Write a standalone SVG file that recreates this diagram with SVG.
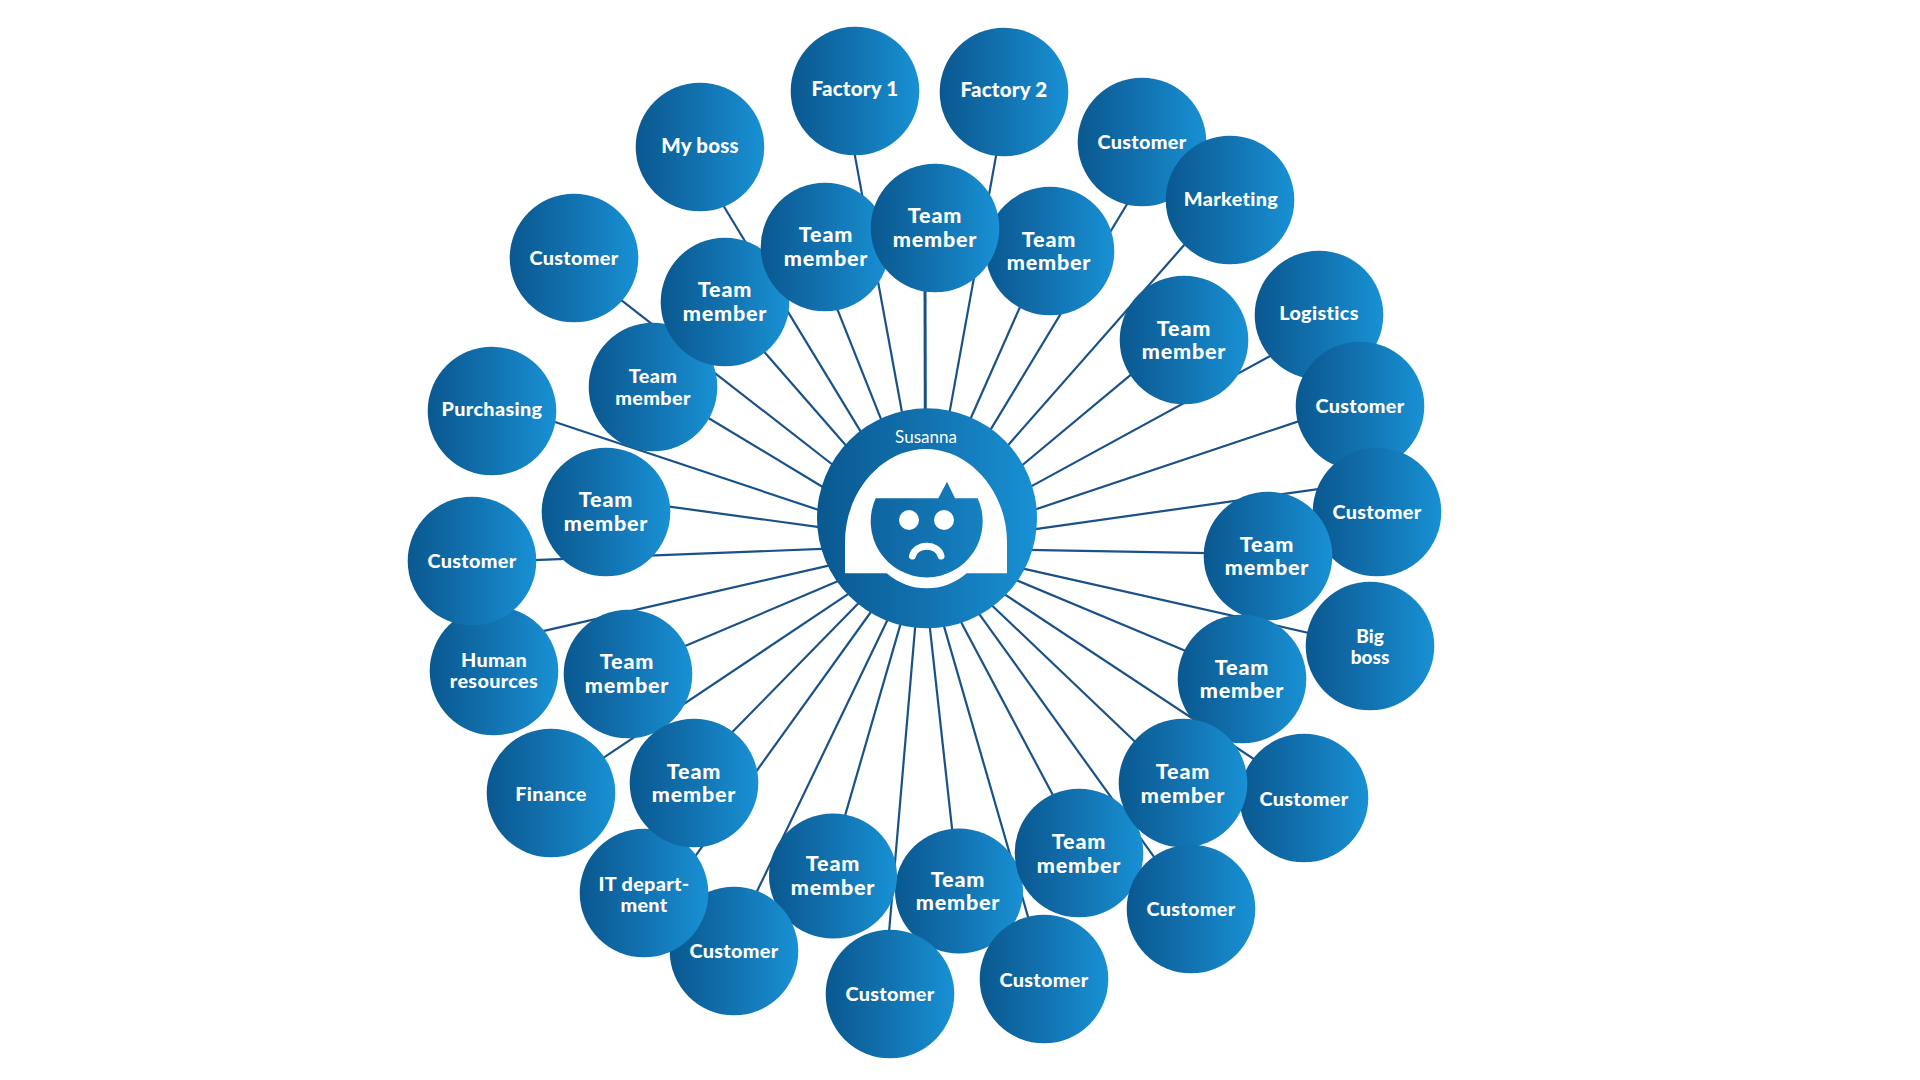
<svg xmlns="http://www.w3.org/2000/svg" width="1920" height="1080" viewBox="0 0 1920 1080">
<defs>
<linearGradient id="g"><stop offset="0" stop-color="#0a5890"/><stop offset="0.5" stop-color="#1272b0"/><stop offset="1" stop-color="#1891d4"/></linearGradient>
<linearGradient id="gh" gradientUnits="userSpaceOnUse" x1="817" y1="0" x2="1037" y2="0"><stop offset="0" stop-color="#0a5890"/><stop offset="0.5" stop-color="#1272b0"/><stop offset="1" stop-color="#1891d4"/></linearGradient>
</defs>
<style>
.n{fill:url(#g)}
.t{font-family:Lato,"Noto Sans",sans-serif;font-weight:900;font-size:21.5px;letter-spacing:.8px;fill:#fff;text-anchor:middle}
.s{font-size:19.8px;letter-spacing:.35px}
.f{font-size:20.5px;letter-spacing:.2px}
.b{font-size:19px;letter-spacing:0}
#connectors line{stroke:#1a5187;stroke-width:2.2;fill:none}
</style>
<rect width="1920" height="1080" fill="#fff"/>
<g id="connectors">
<line x1="925.3" y1="414" x2="925" y2="285" style="stroke-width:3"/>
<line x1="948.6" y1="417.6" x2="997.4" y2="148.4"/>
<line x1="970.3" y1="419.2" x2="1020.4" y2="306.1"/>
<line x1="987.7" y1="434.4" x2="1130" y2="199.3"/>
<line x1="1004.8" y1="448.9" x2="1188.5" y2="240.1"/>
<line x1="1020.1" y1="467" x2="1132.5" y2="373.4"/>
<line x1="1025.2" y1="489.6" x2="1276.1" y2="352.8"/>
<line x1="1028.9" y1="511.6" x2="1305.1" y2="419.1"/>
<line x1="1028.3" y1="530.2" x2="1325.1" y2="488.1"/>
<line x1="1027" y1="549.9" x2="1208.4" y2="553.1"/>
<line x1="1016.6" y1="567.1" x2="1314.4" y2="634.2"/>
<line x1="1013.3" y1="578.9" x2="1190" y2="652.8"/>
<line x1="999.3" y1="590.8" x2="1260.1" y2="763.2"/>
<line x1="989.1" y1="602.7" x2="1138.2" y2="744.7"/>
<line x1="974.8" y1="607.8" x2="1158.5" y2="863.2"/>
<line x1="959" y1="618.2" x2="1055" y2="799.1"/>
<line x1="941.8" y1="618.6" x2="1030.5" y2="925.4"/>
<line x1="929.3" y1="622.3" x2="952.7" y2="834.7"/>
<line x1="915.8" y1="619.3" x2="888.5" y2="938.3"/>
<line x1="901.6" y1="620.4" x2="844.1" y2="818.9"/>
<line x1="890.6" y1="613.6" x2="753.4" y2="898.8"/>
<line x1="875.2" y1="606" x2="690.8" y2="862.3"/>
<line x1="860.4" y1="601.3" x2="730.6" y2="733.8"/>
<line x1="854" y1="590.1" x2="597.7" y2="761.6"/>
<line x1="841.2" y1="579.8" x2="681.5" y2="647.6"/>
<line x1="835.2" y1="564.1" x2="536.5" y2="632.6"/>
<line x1="828.5" y1="548.7" x2="527.5" y2="560.3"/>
<line x1="821.1" y1="527.3" x2="665.6" y2="506.1"/>
<line x1="824.5" y1="511.9" x2="548.2" y2="419.7"/>
<line x1="824" y1="487.7" x2="706.7" y2="417"/>
<line x1="836.2" y1="467.5" x2="617.1" y2="296.9"/>
<line x1="846.4" y1="446" x2="762.6" y2="350"/>
<line x1="863.3" y1="435.9" x2="721" y2="201.7"/>
<line x1="881.3" y1="419.9" x2="836.4" y2="306.8"/>
<line x1="903.1" y1="418.3" x2="853.6" y2="148.4"/>
</g>
<g id="factory-1"><circle class="n" cx="855" cy="91" r="64.3"/><text class="t f" x="855" y="96">Factory 1</text></g>
<g id="factory-2"><circle class="n" cx="1004" cy="92" r="64.3"/><text class="t f" x="1004" y="97">Factory 2</text></g>
<g id="my-boss"><circle class="n" cx="700" cy="147" r="64.3"/><text class="t f" x="700" y="153">My boss</text></g>
<g id="customer-nw"><circle class="n" cx="574" cy="258" r="64.3"/><text class="t s" x="574" y="265">Customer</text></g>
<g id="purchasing"><circle class="n" cx="492" cy="411" r="64.3"/><text class="t s" x="492" y="416">Purchasing</text></g>
<g id="human-resources"><circle class="n" cx="494" cy="671" r="64.3"/><text class="t s" x="494" y="667">Human</text><text class="t s" x="494" y="688">resources</text></g>
<g id="customer-w"><circle class="n" cx="472" cy="561" r="64.3"/><text class="t s" x="472" y="568">Customer</text></g>
<g id="team-1"><circle class="n" cx="653" cy="387" r="64.3"/><text class="t s" x="653" y="383">Team</text><text class="t s" x="653" y="405">member</text></g>
<g id="team-2"><circle class="n" cx="606" cy="512" r="64.3"/><text class="t" x="606" y="507">Team</text><text class="t" x="606" y="531">member</text></g>
<g id="team-3"><circle class="n" cx="725" cy="302" r="64.3"/><text class="t" x="725" y="297">Team</text><text class="t" x="725" y="321">member</text></g>
<g id="team-4"><circle class="n" cx="825" cy="247" r="64.3"/><text class="t" x="826" y="242">Team</text><text class="t" x="826" y="266">member</text></g>
<g id="team-6"><circle class="n" cx="1050" cy="251" r="64.3"/><text class="t" x="1049" y="247">Team</text><text class="t" x="1049" y="270">member</text></g>
<g id="team-5"><circle class="n" cx="935" cy="228" r="64.3"/><text class="t" x="935" y="223">Team</text><text class="t" x="935" y="247">member</text></g>
<g id="customer-ne"><circle class="n" cx="1142" cy="142" r="64.3"/><text class="t s" x="1142" y="149">Customer</text></g>
<g id="marketing"><circle class="n" cx="1230" cy="200" r="64.3"/><text class="t s" x="1231" y="206">Marketing</text></g>
<g id="logistics"><circle class="n" cx="1319" cy="315" r="64.3"/><text class="t s" x="1319" y="320">Logistics</text></g>
<g id="customer-e1"><circle class="n" cx="1360" cy="406" r="64.3"/><text class="t s" x="1360" y="413">Customer</text></g>
<g id="customer-e2"><circle class="n" cx="1377" cy="512" r="64.3"/><text class="t s" x="1377" y="519">Customer</text></g>
<g id="team-7"><circle class="n" cx="1184" cy="340" r="64.3"/><text class="t" x="1184" y="336">Team</text><text class="t" x="1184" y="359">member</text></g>
<g id="team-8"><circle class="n" cx="1268" cy="556" r="64.3"/><text class="t" x="1267" y="552">Team</text><text class="t" x="1267" y="575">member</text></g>
<g id="big-boss"><circle class="n" cx="1370" cy="646" r="64.3"/><text class="t b" x="1370" y="643">Big</text><text class="t b" x="1370" y="664">boss</text></g>
<g id="team-9"><circle class="n" cx="1242" cy="679" r="64.3"/><text class="t" x="1242" y="675">Team</text><text class="t" x="1242" y="698">member</text></g>
<g id="customer-se1"><circle class="n" cx="1304" cy="798" r="64.3"/><text class="t s" x="1304" y="806">Customer</text></g>
<g id="team-12"><ellipse class="n" cx="959" cy="891" rx="64" ry="62.5"/><text class="t" x="958" y="887">Team</text><text class="t" x="958" y="910">member</text></g>
<g id="customer-s2"><circle class="n" cx="1044" cy="979" r="64.3"/><text class="t s" x="1044" y="987">Customer</text></g>
<g id="team-11"><circle class="n" cx="1079" cy="853" r="64.3"/><text class="t" x="1079" y="849">Team</text><text class="t" x="1079" y="873">member</text></g>
<g id="team-10"><circle class="n" cx="1183" cy="783" r="64.3"/><text class="t" x="1183" y="779">Team</text><text class="t" x="1183" y="803">member</text></g>
<g id="customer-se2"><circle class="n" cx="1191" cy="909" r="64.3"/><text class="t s" x="1191" y="916">Customer</text></g>
<g id="customer-s1"><circle class="n" cx="890" cy="994" r="64.3"/><text class="t s" x="890" y="1001">Customer</text></g>
<g id="team-13"><ellipse class="n" cx="833" cy="876" rx="64" ry="62.5"/><text class="t" x="833" y="871">Team</text><text class="t" x="833" y="895">member</text></g>
<g id="customer-sw"><circle class="n" cx="734" cy="951" r="64.3"/><text class="t s" x="734" y="958">Customer</text></g>
<g id="finance"><circle class="n" cx="551" cy="793" r="64.3"/><text class="t s" x="551" y="801">Finance</text></g>
<g id="team-15"><circle class="n" cx="628" cy="674" r="64.3"/><text class="t" x="627" y="669">Team</text><text class="t" x="627" y="693">member</text></g>
<g id="it-department"><circle class="n" cx="644" cy="893" r="64.3"/><text class="t s" x="644" y="891">IT depart-</text><text class="t s" x="644" y="912">ment</text></g>
<g id="team-14"><circle class="n" cx="694" cy="783" r="64.3"/><text class="t" x="694" y="779">Team</text><text class="t" x="694" y="802">member</text></g>
<g id="susanna">
<circle cx="927" cy="518.3" r="110" fill="url(#gh)"/>
<path d="M845 573.3 L845 542 C845 492 882 449 926 449 C970 449 1007 492 1007 542 L1007 573.3 L966.7 573.3 A61 61 0 0 1 886.7 573.3 Z" fill="#fff"/>
<path d="M875.7 498.3 L938.3 498.3 L947 481.7 L955 498.3 L977.7 498.3 A56 56 0 1 1 875.7 498.3 Z" fill="url(#gh)"/>
<circle cx="909" cy="520" r="10" fill="#fff"/>
<circle cx="944" cy="520" r="10" fill="#fff"/>
<path d="M912.5 556 A14.5 12 0 0 1 941 556" fill="none" stroke="#fff" stroke-width="7" stroke-linecap="round"/>
<text x="926" y="443" style="font-family:Lato,'Noto Sans',sans-serif;font-weight:400;font-size:17px;fill:#fff;text-anchor:middle">Susanna</text>
</g>
</svg>
